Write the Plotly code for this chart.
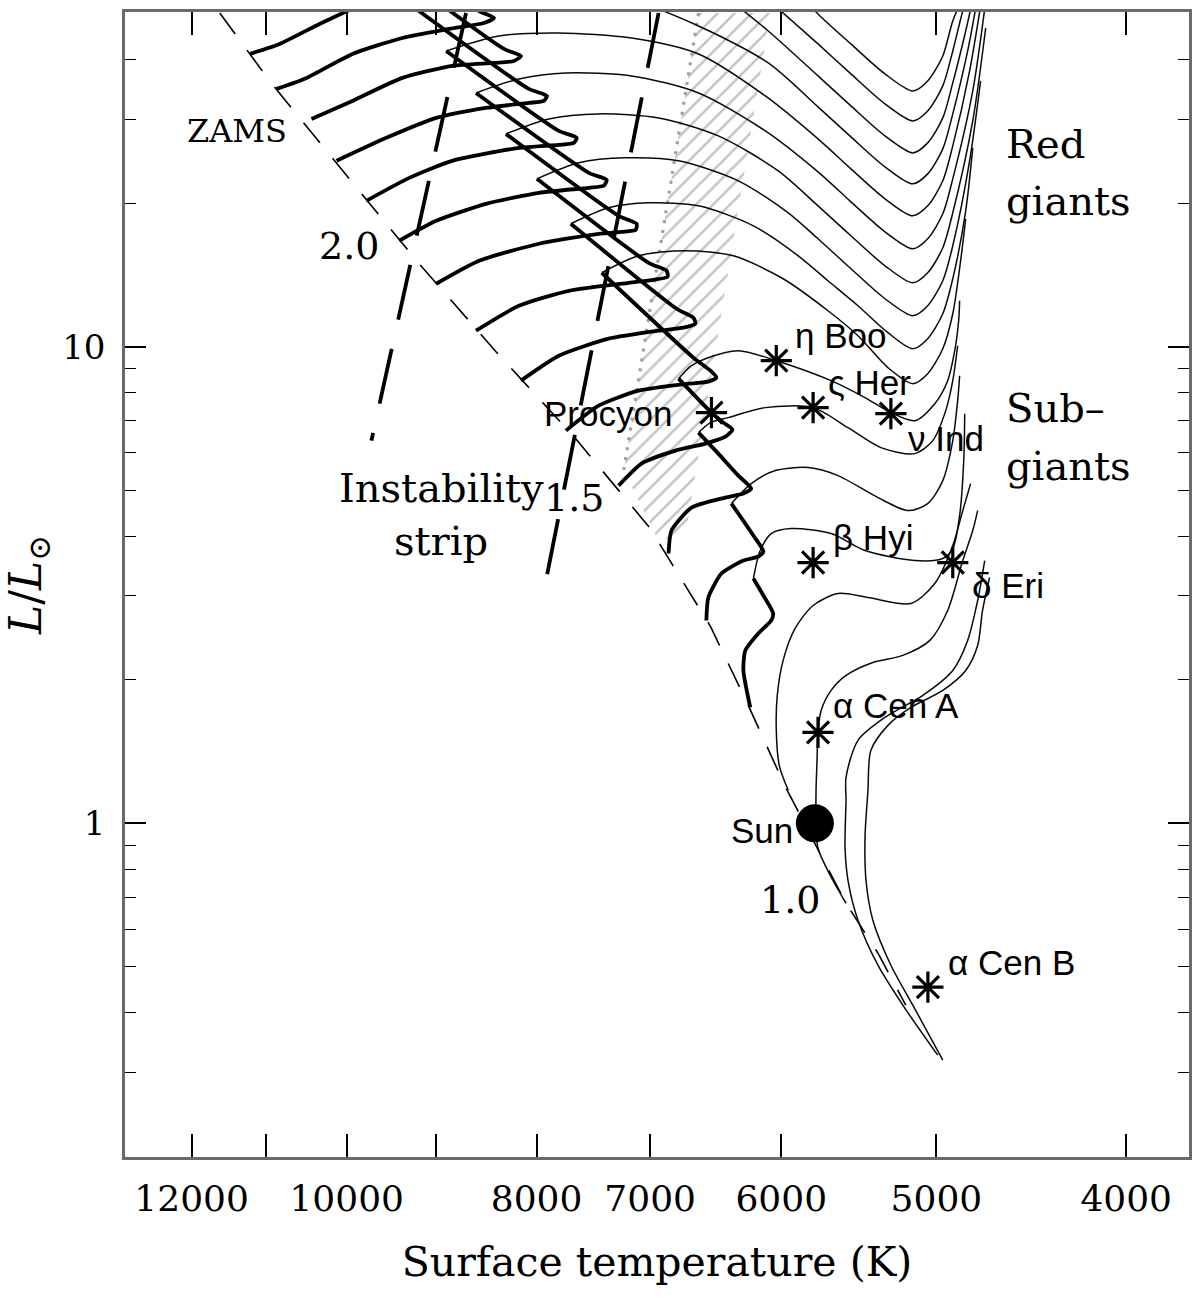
import plotly.graph_objects as go

# ---------------- axis ticks ----------------
temp_ticks = [12000, 11000, 10000, 9000, 8000, 7000, 6000, 5000, 4000]
temp_ticklabels = ["12000", "", "10000", "", "8000", "7000", "6000", "5000", "4000"]
lum_ticks = [1, 10]
lum_ticklabels = ["1", "10"]
lum_minor = [0.3, 0.4, 0.5, 0.6, 0.7, 0.8, 0.9, 2, 3, 4, 5, 6, 7, 8, 9, 20, 30, 40]

# ---------------- curves: (log10 Teff, log10 L/Lsun) ----------------
zams = [(4.0648, 1.7002), (4.0394, 1.5577), (4.0012, 1.3648), (3.9630, 1.1741), (3.9238, 0.9896),
        (3.8836, 0.8093), (3.8454, 0.6206), (3.8143, 0.4131), (3.7950, 0.2474), (3.7762, 0.0776),
        (3.7451, -0.1677), (3.7288, -0.2725), (3.7146, -0.3815)]

strip_blue = [(3.9391, 1.7002), (3.9874, 0.8030)]
strip_red = [(3.8408, 1.7002), (3.8988, 0.4990)]

hatch_zone = [(3.8204, 1.7002), (3.7838, 1.7002), (3.8271, 0.6038), (3.8408, 0.5934), (3.8586, 0.7401)]
hatch_edge = [(3.8204, 1.7002), (3.8586, 0.7401)]

# main-sequence (thick) parts, 2.5 ... 1.2 Msun
ms_25 = [(4.0495, 1.6143), (4.0343, 1.6353), (4.0139, 1.6772), (3.9976, 1.7086), (3.9808, 1.7422)]
ms_24 = [(4.0358, 1.5409), (4.0205, 1.5640), (3.9971, 1.6143), (3.9716, 1.6478), (3.9477, 1.6667),
         (3.9299, 1.6793), (3.9248, 1.6898), (3.9324, 1.7044), (3.9910, 1.8826)]
ms_23 = [(4.0180, 1.4780), (3.9971, 1.5158), (3.9716, 1.5640), (3.9462, 1.5891), (3.9248, 1.5954),
         (3.9146, 1.5996), (3.9111, 1.6101), (3.9197, 1.6248), (3.9783, 1.7988)]
ms_22 = [(4.0052, 1.3900), (3.9798, 1.4382), (3.9543, 1.4801), (3.9289, 1.5011), (3.9070, 1.5116),
         (3.8994, 1.5158), (3.8978, 1.5262), (3.9070, 1.5409), (3.9645, 1.7086)]
ms_21 = [(3.9900, 1.3061), (3.9681, 1.3543), (3.9462, 1.3900), (3.9121, 1.4172), (3.8917, 1.4235),
         (3.8841, 1.4277), (3.8826, 1.4382), (3.8917, 1.4529), (3.9492, 1.6206)]
ms_20 = [(3.9732, 1.2223), (3.9543, 1.2642), (3.9289, 1.2998), (3.9019, 1.3229), (3.8764, 1.3334),
         (3.8688, 1.3376), (3.8673, 1.3501), (3.8764, 1.3648), (3.9340, 1.5325)]
ms_19 = [(3.9543, 1.1321), (3.9324, 1.1803), (3.9019, 1.2160), (3.8714, 1.2369), (3.8596, 1.2411),
         (3.8525, 1.2453), (3.8520, 1.2579), (3.8612, 1.2747), (3.9187, 1.4466)]
ms_18 = [(3.9340, 1.0336), (3.9121, 1.0860), (3.8866, 1.1174), (3.8561, 1.1342), (3.8434, 1.1405),
         (3.8362, 1.1468), (3.8367, 1.1594), (3.8459, 1.1761), (3.9029, 1.3522)]
ms_17 = [(3.9111, 0.9288), (3.8917, 0.9812), (3.8663, 1.0168), (3.8408, 1.0336), (3.8281, 1.0399),
         (3.8220, 1.0483), (3.8230, 1.0608), (3.8316, 1.0797), (3.8856, 1.2579)]
ms_16 = [(3.8881, 0.8240), (3.8714, 0.8764), (3.8510, 0.9078), (3.8255, 0.9225), (3.8154, 0.9267),
         (3.8113, 0.9351), (3.8143, 0.9497), (3.8230, 0.9770), (3.8698, 1.1552)]
ms_15 = [(3.8612, 0.7086), (3.8495, 0.7548), (3.8322, 0.7820), (3.8169, 0.7967), (3.8067, 0.8114),
         (3.8031, 0.8261), (3.8077, 0.8407), (3.8138, 0.8617), (3.8306, 0.9330)]
ms_14 = [(3.8357, 0.5661), (3.8342, 0.6143), (3.8240, 0.6625), (3.8067, 0.6835), (3.7975, 0.6919),
         (3.7935, 0.7024), (3.8001, 0.7296), (3.8103, 0.7757), (3.8204, 0.8198)]
ms_13 = [(3.8164, 0.4256), (3.8154, 0.4739), (3.8087, 0.5242), (3.7975, 0.5514), (3.7899, 0.5598),
         (3.7873, 0.5703), (3.7924, 0.6039), (3.8036, 0.6709)]
ms_12 = [(3.7940, 0.2432), (3.7975, 0.3208), (3.7965, 0.3628), (3.7899, 0.3984), (3.7833, 0.4256),
         (3.7823, 0.4403), (3.7873, 0.4781), (3.7924, 0.5137)]

# post-main-sequence (thin) parts
post_25 = [(3.7797, 1.7883), (3.7594, 1.6981), (3.7426, 1.6353), (3.7252, 1.5724), (3.7110, 1.5367),
           (3.7034, 1.5577), (3.6957, 1.6101), (3.6906, 1.6835), (3.6840, 1.7464)]
post_24 = [(3.7899, 1.7464), (3.7594, 1.6353), (3.7426, 1.5724), (3.7252, 1.5095), (3.7110, 1.4738),
           (3.7034, 1.4948), (3.6957, 1.5472), (3.6906, 1.6206), (3.6855, 1.7044), (3.6815, 1.7568)]
post_23 = [(3.8103, 1.7464), (3.7848, 1.6625), (3.7594, 1.5682), (3.7426, 1.5053), (3.7252, 1.4424),
           (3.7110, 1.4067), (3.7034, 1.4277), (3.6957, 1.4801), (3.6906, 1.5535), (3.6840, 1.6625),
           (3.6789, 1.7568)]
post_22 = [(3.9645, 1.7086), (3.9375, 1.7359), (3.9019, 1.7506), (3.8612, 1.7359), (3.8204, 1.6730),
           (3.7848, 1.5954), (3.7594, 1.5032), (3.7426, 1.4403), (3.7252, 1.3774), (3.7110, 1.3418),
           (3.7034, 1.3627), (3.6957, 1.4151), (3.6906, 1.4885), (3.6830, 1.6206), (3.6769, 1.7568)]
post_21 = [(3.9492, 1.6206), (3.9223, 1.6520), (3.8917, 1.6583), (3.8546, 1.6478), (3.8204, 1.6143),
           (3.7863, 1.5262), (3.7594, 1.4361), (3.7426, 1.3732), (3.7252, 1.3103), (3.7110, 1.2747),
           (3.7034, 1.2956), (3.6957, 1.3481), (3.6906, 1.4214), (3.6820, 1.5787), (3.6748, 1.7568)]
post_20 = [(3.9340, 1.5325), (3.9121, 1.5619), (3.8881, 1.5745), (3.8546, 1.5682), (3.8204, 1.5325),
           (3.7863, 1.4529), (3.7594, 1.3669), (3.7426, 1.3040), (3.7252, 1.2411), (3.7110, 1.2055),
           (3.7034, 1.2265), (3.6957, 1.2789), (3.6906, 1.3522), (3.6804, 1.5367), (3.6728, 1.7568)]
post_19 = [(3.9187, 1.4466), (3.8968, 1.4780), (3.8714, 1.4885), (3.8408, 1.4801), (3.8103, 1.4424),
           (3.7797, 1.3690), (3.7594, 1.2956), (3.7426, 1.2328), (3.7252, 1.1698), (3.7110, 1.1342),
           (3.7034, 1.1552), (3.6957, 1.2076), (3.6906, 1.2810), (3.6804, 1.4738), (3.6738, 1.6688)]
post_18 = [(3.9029, 1.3522), (3.8815, 1.3858), (3.8576, 1.3963), (3.8306, 1.3900), (3.8001, 1.3481),
           (3.7746, 1.2810), (3.7594, 1.2265), (3.7426, 1.1636), (3.7252, 1.1007), (3.7110, 1.0650),
           (3.7034, 1.0860), (3.6957, 1.1384), (3.6906, 1.2118), (3.6820, 1.3900), (3.6764, 1.5577)]
post_17 = [(3.8856, 1.2579), (3.8663, 1.2914), (3.8459, 1.3019), (3.8204, 1.2956), (3.7924, 1.2537),
           (3.7695, 1.1908), (3.7543, 1.1384), (3.7390, 1.0860), (3.7237, 1.0294), (3.7110, 0.9958),
           (3.7034, 1.0168), (3.6957, 1.0692), (3.6906, 1.1426), (3.6840, 1.2852), (3.6804, 1.4172)]
post_16 = [(3.8698, 1.1552), (3.8510, 1.1908), (3.8271, 1.2013), (3.8026, 1.1908), (3.7772, 1.1426),
           (3.7543, 1.0755), (3.7390, 1.0231), (3.7237, 0.9560), (3.7110, 0.9225), (3.7034, 0.9434),
           (3.6957, 0.9958), (3.6906, 1.0692), (3.6866, 1.1803), (3.6840, 1.2684)]
post_15 = [(3.8306, 0.9330), (3.8240, 0.9602), (3.8169, 0.9749), (3.8001, 0.9917), (3.7807, 0.9707),
           (3.7527, 0.9288), (3.7354, 0.8931), (3.7222, 0.8617), (3.7100, 0.8449), (3.6998, 0.8805),
           (3.6932, 0.9288), (3.6896, 0.9917), (3.6876, 1.0546), (3.6871, 1.0965)]
post_14 = [(3.8204, 0.8198), (3.8143, 0.8407), (3.8052, 0.8512), (3.7863, 0.8722), (3.7619, 0.8722),
           (3.7441, 0.8302), (3.7273, 0.7883), (3.7100, 0.7757), (3.7008, 0.8030), (3.6942, 0.8659),
           (3.6906, 0.9288), (3.6881, 1.0021)]
post_13 = [(3.8036, 0.6709), (3.7935, 0.7128), (3.7812, 0.7401), (3.7644, 0.7464), (3.7492, 0.7296),
           (3.7288, 0.6835), (3.7135, 0.6562), (3.7034, 0.6709), (3.6957, 0.7191), (3.6906, 0.8030),
           (3.6881, 0.8868), (3.6871, 0.9392)]
post_12 = [(3.7924, 0.5137), (3.7889, 0.5724), (3.7833, 0.6080), (3.7731, 0.6185), (3.7527, 0.6080),
           (3.7354, 0.5724), (3.7100, 0.5514), (3.6957, 0.5557), (3.6906, 0.5766), (3.6871, 0.6457),
           (3.6850, 0.7611), (3.6845, 0.8596)]
track_11 = [(3.7746, 0.0693), (3.7792, 0.1217), (3.7807, 0.1950), (3.7802, 0.2684), (3.7772, 0.3418),
            (3.7711, 0.4089), (3.7619, 0.4571), (3.7492, 0.4822), (3.7339, 0.4739), (3.7120, 0.4613),
            (3.6998, 0.5032), (3.6906, 0.5829), (3.6855, 0.6562), (3.6815, 0.7128)]
track_10 = [(3.7451, -0.1677), (3.7532, -0.1090), (3.7594, -0.0524), (3.7604, 0.0000), (3.7604, 0.0693),
            (3.7599, 0.1321), (3.7594, 0.1908), (3.7578, 0.2369), (3.7527, 0.2789), (3.7451, 0.3103),
            (3.7314, 0.3376), (3.7161, 0.3523), (3.7023, 0.3838), (3.6932, 0.4466), (3.6855, 0.5514),
            (3.6804, 0.6143), (3.6779, 0.6562)]
track_09 = [(3.6983, -0.4864), (3.7161, -0.3815), (3.7288, -0.2977), (3.7390, -0.2033), (3.7441, -0.1195),
            (3.7456, -0.0503), (3.7451, 0.0483), (3.7451, 0.0965), (3.7390, 0.1741), (3.7252, 0.2223),
            (3.7059, 0.2684), (3.6906, 0.3208), (3.6830, 0.3838), (3.6779, 0.4676), (3.6743, 0.5514)]
track_08 = [(3.6957, -0.4969), (3.7110, -0.3815), (3.7222, -0.2977), (3.7314, -0.2033), (3.7349, -0.1195),
            (3.7354, -0.0293), (3.7339, 0.0693), (3.7324, 0.1531), (3.7237, 0.2055), (3.7120, 0.2432),
            (3.6957, 0.2789), (3.6840, 0.3208), (3.6779, 0.3732), (3.6754, 0.4466), (3.6718, 0.5158)]

# observed stars (log10 Teff, log10 L)
star_names = ["Procyon", "η Boo", "ς Her", "ν Ind", "β Hyi", "δ Eri", "α Cen A", "α Cen B"]
star_logT = [3.8138, 3.7807, 3.7619, 3.7222, 3.7619, 3.6906, 3.7594, 3.7033]
star_logL = [0.8617, 0.9707, 0.8722, 0.8596, 0.5472, 0.5472, 0.1908, -0.3437]
sun_logT, sun_logL = 3.7610, 0.0

thick_parts = [ms_25, ms_24, ms_23, ms_22, ms_21, ms_20, ms_19, ms_18, ms_17, ms_16, ms_15, ms_14, ms_13, ms_12]
thin_parts = [post_25, post_24, post_23, post_22, post_21, post_20, post_19, post_18, post_17, post_16,
              post_15, post_14, post_13, post_12, track_11, track_10, track_09, track_08]


def lin(pts):
    return [10 ** a for a, b in pts], [10 ** b for a, b in pts]


fig = go.Figure()

# hatched band
hx, hy = lin(hatch_zone + hatch_zone[:1])
fig.add_trace(go.Scatter(x=hx, y=hy, mode="lines", fill="toself", line=dict(width=0),
                         fillcolor="rgba(0,0,0,0)",
                         fillpattern=dict(shape="/", fgcolor="#8c8c8c", bgcolor="rgba(0,0,0,0)",
                                          size=12, solidity=0.22),
                         hoverinfo="skip"))
ex, ey = lin(hatch_edge)
fig.add_trace(go.Scatter(x=ex, y=ey, mode="lines", line=dict(color="#a0a0a0", width=3.2, dash="3px,7px"),
                         hoverinfo="skip"))

# ZAMS
zx, zy = lin(zams)
fig.add_trace(go.Scatter(x=zx, y=zy, mode="lines", line=dict(color="black", width=1.6, dash="26px,20px"),
                         hoverinfo="skip"))

for pts in thin_parts:
    x, y = lin(pts)
    fig.add_trace(go.Scatter(x=x, y=y, mode="lines", line=dict(color="#0a0a0a", width=1.5, shape="spline",
                                                               smoothing=0.8), hoverinfo="skip"))
for pts in thick_parts:
    x, y = lin(pts)
    fig.add_trace(go.Scatter(x=x, y=y, mode="lines", line=dict(color="black", width=3.8, shape="spline",
                                                               smoothing=0.6), hoverinfo="skip"))

# instability strip edges
for pts in (strip_blue, strip_red):
    x, y = lin(pts)
    fig.add_trace(go.Scatter(x=x, y=y, mode="lines", line=dict(color="black", width=3.8, dash="56px,30px"),
                             hoverinfo="skip"))

# stars
fig.add_trace(go.Scatter(x=[10 ** v for v in star_logT], y=[10 ** v for v in star_logL], mode="markers",
                         marker=dict(symbol="asterisk-open", size=26, color="black",
                                     line=dict(color="black", width=3.2)),
                         hoverinfo="skip"))
fig.add_trace(go.Scatter(x=[10 ** sun_logT], y=[10 ** sun_logL], mode="markers",
                         marker=dict(symbol="circle", size=38, color="black"), hoverinfo="skip"))

serif = "DejaVu Serif"
sans = "Liberation Sans"


def note(text, lx, ly, size, family, xanchor="center", yanchor="middle"):
    fig.add_annotation(x=lx, y=ly, xref="x", yref="y", text=text, showarrow=False,
                       font=dict(family=family, size=size, color="black"), xanchor=xanchor, yanchor=yanchor)


note("ZAMS", 4.0562, 1.4529, 32, serif)
note("2.0", 3.9986, 1.2118, 38, serif)
note("1.5", 3.8841, 0.6835, 38, serif)
note("1.0", 3.7736, -0.1614, 38, serif)
note("Instability", 3.9518, 0.7045, 40, serif)
note("strip", 3.9518, 0.5933, 40, serif)
note("Red", 3.6642, 1.4256, 40, serif, xanchor="left")
note("giants", 3.6642, 1.3061, 40, serif, xanchor="left")
note("Sub–", 3.6642, 0.8722, 40, serif, xanchor="left")
note("giants", 3.6642, 0.7506, 40, serif, xanchor="left")

note("η Boo", 3.7721, 1.0231, 35, sans, xanchor="left")
note("ς Her", 3.7553, 0.9246, 35, sans, xanchor="left")
note("ν Ind", 3.7146, 0.8072, 35, sans, xanchor="left")
note("Procyon", 3.8327, 0.8596, 35, sans, xanchor="right")
note("β Hyi", 3.7527, 0.5996, 35, sans, xanchor="left")
note("δ Eri", 3.6820, 0.4990, 35, sans, xanchor="left")
note("α Cen A", 3.7527, 0.2474, 35, sans, xanchor="left")
note("Sun", 3.7711, -0.0146, 35, sans, xanchor="right")
note("α Cen B", 3.6942, -0.2913, 35, sans, xanchor="left")

fig.update_layout(
    width=1201, height=1298,
    margin=dict(l=125, r=9, t=11, b=141),
    plot_bgcolor="white", paper_bgcolor="white", showlegend=False,
    xaxis=dict(type="log", range=[4.1132, 3.5700], tickmode="array", tickvals=temp_ticks,
               ticktext=temp_ticklabels, ticks="inside", ticklen=23, tickwidth=1.5, tickcolor="black",
               showline=True, linecolor="#6a6a6a", linewidth=2.5, mirror="allticks", showgrid=False,
               zeroline=False, tickfont=dict(family=serif, size=36, color="black"), ticklabelstandoff=8,
               title=dict(text="Surface temperature (K)", font=dict(family=serif, size=41, color="black"),
                          standoff=30)),
    yaxis=dict(type="log", range=[-0.7001, 1.7023], tickmode="array", tickvals=lum_ticks,
               ticktext=lum_ticklabels, ticks="inside", ticklen=21, tickwidth=1.5, tickcolor="black",
               minor=dict(tickmode="array", tickvals=lum_minor, ticks="inside", ticklen=11, tickwidth=1.3,
                          tickcolor="black"),
               showline=True, linecolor="#6a6a6a", linewidth=2.5, mirror="allticks", showgrid=False,
               zeroline=False, tickfont=dict(family=serif, size=34, color="black"), ticklabelstandoff=10,
               title=dict(text="<i>L</i>/<i>L</i><sub>⊙</sub>", font=dict(family=serif, size=44, color="black"),
                          standoff=10)),
)

fig.write_html("out.html", config={"displayModeBar": False},
               post_script="document.body.style.margin='0px';")
